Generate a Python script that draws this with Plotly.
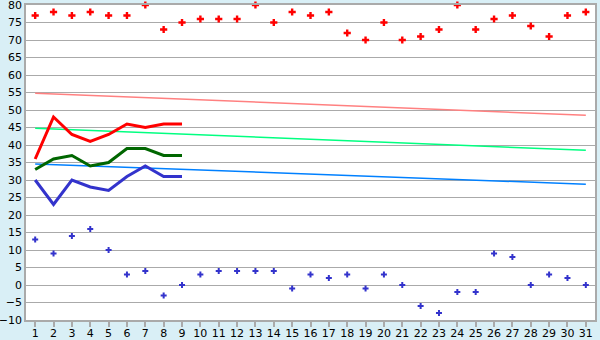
import plotly.graph_objects as go

days = list(range(1, 32))
high_points = [77, 78, 77, 78, 77, 77, 80, 73, 75, 76, 76, 76, 80, 75, 78, 77, 78, 72, 70, 75,
               70, 71, 73, 80, 73, 76, 77, 74, 71, 77, 78]
low_points = [13, 9, 14, 16, 10, 3, 4, -3, 0, 3, 4, 4, 4, 4, -1, 3, 2, 3, -1, 3,
              0, -6, -8, -2, -2, 9, 8, 0, 3, 2, 0]
line_days = list(range(1, 10))
red_line = [36, 48, 43, 41, 43, 46, 45, 46, 46]
green_line = [33, 36, 37, 34, 35, 39, 39, 37, 37]
blue_line = [30, 23, 30, 28, 27, 31, 34, 31, 31]
trend_days = [1, 31]
red_trend = [54.8, 48.5]
green_trend = [44.8, 38.5]
blue_trend = [34.6, 28.8]

fig = go.Figure()
fig.add_trace(go.Scatter(x=trend_days, y=red_trend, mode="lines", line=dict(color="#ff8080", width=1.5)))
fig.add_trace(go.Scatter(x=trend_days, y=green_trend, mode="lines", line=dict(color="#00ff80", width=1.5)))
fig.add_trace(go.Scatter(x=trend_days, y=blue_trend, mode="lines", line=dict(color="#0080ff", width=1.5)))
fig.add_trace(go.Scatter(x=line_days, y=red_line, mode="lines", line=dict(color="#ff0000", width=3)))
fig.add_trace(go.Scatter(x=line_days, y=green_line, mode="lines", line=dict(color="#006600", width=3)))
fig.add_trace(go.Scatter(x=line_days, y=blue_line, mode="lines", line=dict(color="#3333cc", width=3)))
fig.add_trace(go.Scatter(x=days, y=high_points, mode="markers", cliponaxis=False,
                         marker=dict(symbol="cross", size=6, color="#ff0000", line=dict(width=0))))
fig.add_trace(go.Scatter(x=days, y=low_points, mode="markers", cliponaxis=False,
                         marker=dict(symbol="cross", size=5, color="#3333cc", line=dict(width=0))))

fig.update_layout(
    width=600, height=340,
    margin=dict(l=26, r=5, t=5, b=20),
    paper_bgcolor="#d9eff6",
    plot_bgcolor="#ffffff",
    showlegend=False,
    font=dict(family="DejaVu Sans", size=11, color="#000000"),
    xaxis=dict(range=[0.5, 31.5], tickmode="array", tickvals=days, ticktext=[str(d) for d in days],
               showgrid=False, zeroline=False, showline=True, linecolor="#aaaaaa", linewidth=1.5,
               mirror=True, ticks="outside", ticklen=5, tickcolor="#aaaaaa", tickwidth=1.5,
               ticklabelstandoff=-3, automargin=False),
    yaxis=dict(range=[-10, 80], dtick=5, showgrid=True, gridcolor="#aaaaaa", gridwidth=1,
               zeroline=False, showline=True, linecolor="#aaaaaa", linewidth=1.5, mirror=True,
               ticks="", ticklen=0, automargin=False, ticklabeloverflow="allow"),
)
fig.write_html("out.html")
